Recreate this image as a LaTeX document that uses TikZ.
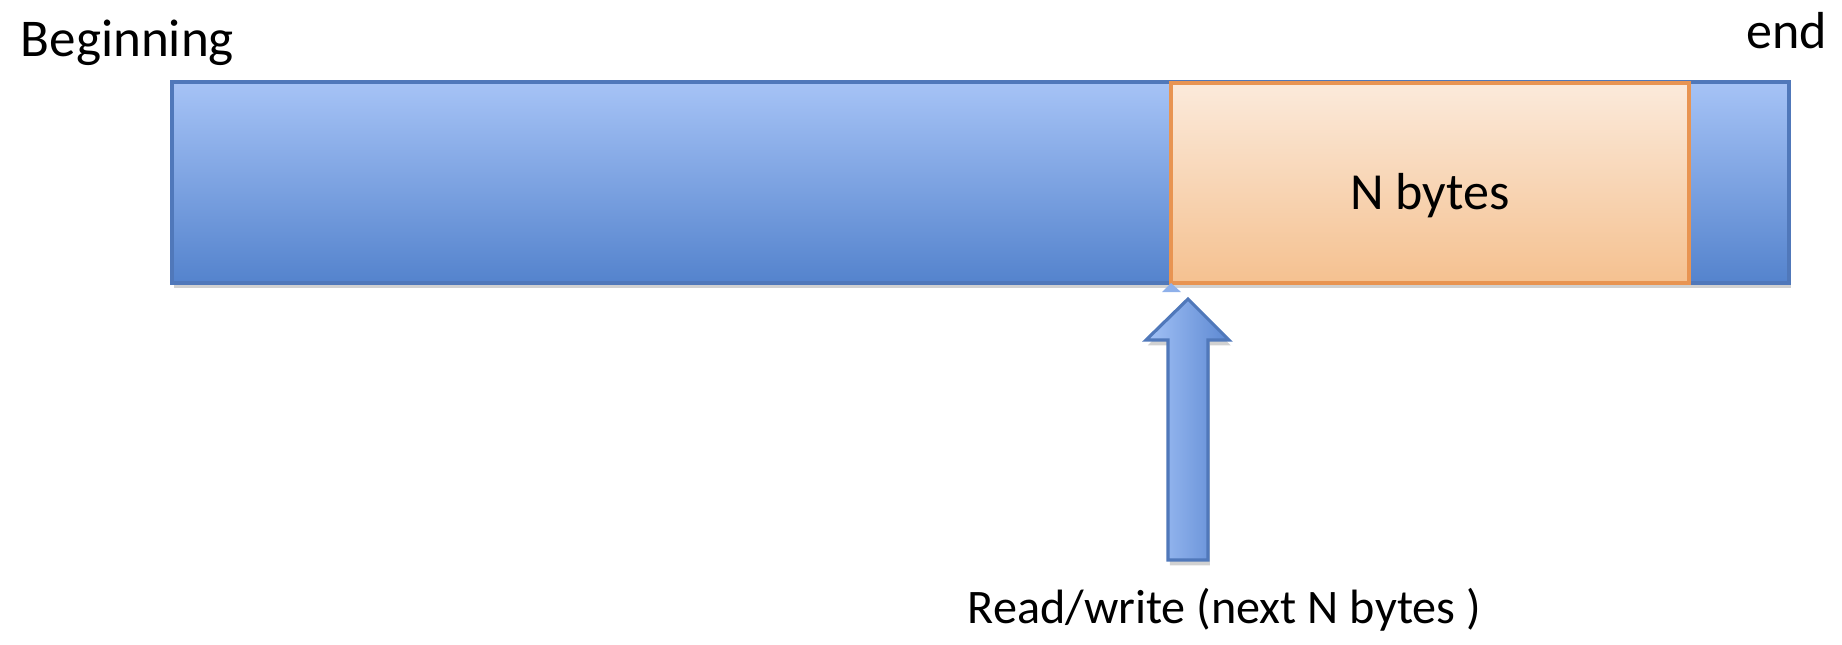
\documentclass[tikz,border=0pt]{standalone}
\usepackage{fontspec}
\setmainfont{Carlito}
\usetikzlibrary{shadows}

\definecolor{barTop}{RGB}{166,195,246}
\definecolor{barBot}{RGB}{84,131,205}
\definecolor{barLine}{RGB}{80,120,186}
\definecolor{blkTop}{RGB}{251,234,219}
\definecolor{blkBot}{RGB}{245,193,144}
\definecolor{blkLine}{RGB}{232,148,82}
\definecolor{ptrLeft}{RGB}{163,194,246}
\definecolor{ptrRight}{RGB}{92,136,210}

\tikzset{
  lbl/.style={inner sep=0pt, font=\fontsize{14.8}{18}\selectfont},
  shade/.style={drop shadow={shadow xshift=0.5pt, shadow yshift=-1.5pt, opacity=0.18, fill=black}},
  bufbar/.style={draw=barLine, line width=0.9pt, top color=barTop, bottom color=barBot, shade},
  chunk/.style={draw=blkLine, line width=1.1pt, top color=blkTop, bottom color=blkBot},
  ptr/.style={draw=barLine, line width=0.9pt, left color=ptrLeft, right color=ptrRight, shade},
}

\begin{document}
\begin{tikzpicture}[x=0.01cm, y=-0.01cm]
        \useasboundingbox (0,0) rectangle (1842,644);
        % whole file as one bar, with the chunk being read
        \draw[bufbar] (172,82) rectangle (1789,283);
        \draw[chunk] (1171,83) rectangle (1689,283);
        \fill[barTop!70!barBot] (1162,292) -- (1171,283) -- (1181,292) -- cycle;
        % file pointer
        \draw[ptr] (1168,560) -- (1168,340) -- (1146,340) -- (1188,299) -- (1229,340) -- (1208,340) -- (1208,560) -- cycle;
        \node[lbl, anchor=base west, font=\fontsize{15.1}{18}\selectfont] (begin) at (20,56) {Beginning};
        \node[lbl, anchor=base east] (end) at (1828,48) {end};
        \node[lbl, anchor=base] (nbytes) at (1430,209) {N bytes};
        \node[lbl, anchor=base west, font=\fontsize{13.7}{17}\selectfont] (rw) at (967,623) {Read/write (next N bytes )};
\end{tikzpicture}
\end{document}
